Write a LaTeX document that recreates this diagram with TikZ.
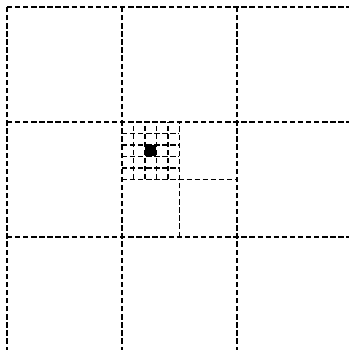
\documentclass[tikz,border=0pt]{standalone}
\usepackage{tikz}

\tikzset{
    gridline/.style={line width=1pt, dash pattern=on 4pt off 2pt},
}

\begin{document}
\begin{tikzpicture}[x=1cm, y=1cm]
    % frame of the picture
    \useasboundingbox (-0.18,0.05) rectangle (8.92,9.18);
    \clip (-0.18,0.05) rectangle (8.92,9.18);

    % coarse 3x3 grid
    \draw[gridline] (0,0) grid[step=3] (9,9);

    % middle cell split in four
    \draw[gridline] (3,4.5) -- (6,4.5);
    \draw[gridline] (4.5,3) -- (4.5,6);

    % fine 5x5 grid in the upper left quarter
    \foreach \i in {1,...,4} {
        \draw[gridline] (3+\i*0.3,4.5) -- (3+\i*0.3,6);
        \draw[gridline] (3,4.5+\i*0.3) -- (4.5,4.5+\i*0.3);
    }

    % filled centre cell
    \fill[black] (3.6,5.1) rectangle (3.9,5.4);
\end{tikzpicture}
\end{document}
